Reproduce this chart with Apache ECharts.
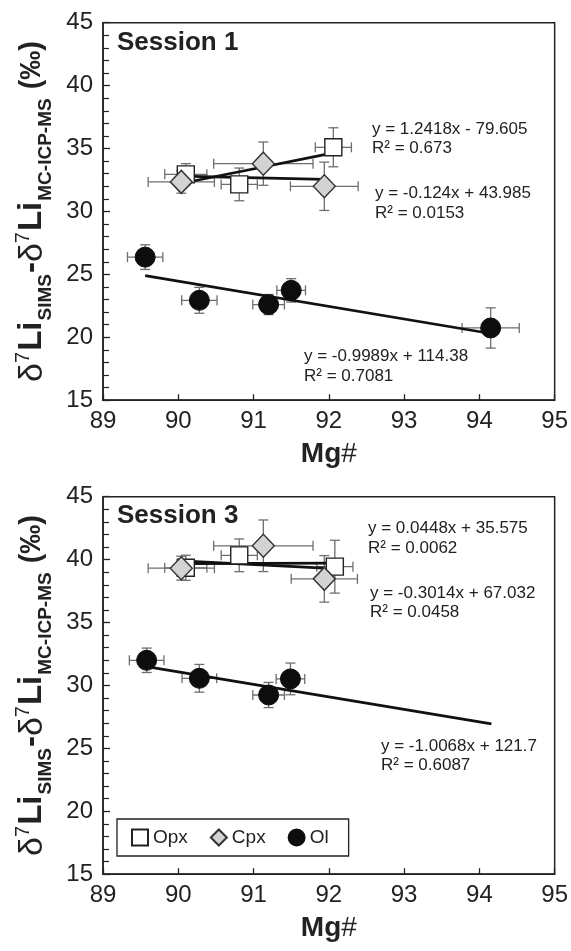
<!DOCTYPE html>
<html>
<head>
<meta charset="utf-8">
<script src="https://cdn.jsdelivr.net/npm/echarts@6/dist/echarts.min.js"></script>
<style>html,body{margin:0;padding:0;background:#fff}#c{width:571px;height:951px}</style>
</head>
<body>
<div id="c"></div>
<script>
// ---------- Data ----------
const xTicks = [89, 90, 91, 92, 93, 94, 95];
const yTicks = [15, 20, 25, 30, 35, 40, 45];

// Session 1
const s1OpxX = [90.10, 90.81, 92.06];
const s1OpxY = [32.95, 32.15, 35.10];
const s1OpxXErr = [0.28, 0.24, 0.24];
const s1OpxYErr = [0.85, 1.30, 1.55];
const s1CpxX = [90.04, 91.13, 91.94];
const s1CpxY = [32.35, 33.80, 32.00];
const s1CpxXErr = [0.44, 0.66, 0.45];
const s1CpxYErr = [0.90, 1.72, 1.92];
const s1OlX = [89.56, 90.28, 91.20, 91.50, 94.15];
const s1OlY = [26.37, 22.94, 22.60, 23.73, 20.74];
const s1OlXErr = [0.235, 0.235, 0.21, 0.19, 0.38];
const s1OlYErr = [0.98, 1.03, 0.80, 0.93, 1.60];
const s1OpxFit = [[90.10, 32.30], [92.06, 34.65]];
const s1CpxFit = [[90.04, 32.80], [91.94, 32.55]];
const s1OlFit = [[89.56, 24.90], [94.15, 20.30]];
const s1Eq = ["y = 1.2418x - 79.605", "R\u00b2 = 0.673", "y = -0.124x + 43.985", "R\u00b2 = 0.0153", "y = -0.9989x + 114.38", "R\u00b2 = 0.7081"];

// Session 3
const s3OpxX = [90.10, 90.81, 92.08];
const s3OpxY = [39.35, 40.34, 39.44];
const s3OpxXErr = [0.28, 0.24, 0.24];
const s3OpxYErr = [1.00, 1.30, 2.10];
const s3CpxX = [90.04, 91.13, 91.94];
const s3CpxY = [39.32, 41.10, 38.47];
const s3CpxXErr = [0.44, 0.66, 0.44];
const s3CpxYErr = [0.95, 2.05, 1.85];
const s3OlX = [89.58, 90.28, 91.20, 91.49];
const s3OlY = [32.00, 30.57, 29.24, 30.52];
const s3OlXErr = [0.23, 0.23, 0.21, 0.19];
const s3OlYErr = [0.97, 1.10, 1.00, 1.26];
const s3OpxFit = [[90.10, 39.68], [92.08, 39.72]];
const s3CpxFit = [[90.04, 39.90], [91.94, 39.32]];
const s3OlFit = [[89.58, 31.50], [94.16, 26.95]];
const s3Eq = ["y = 0.0448x + 35.575", "R\u00b2 = 0.0062", "y = -0.3014x + 67.032", "R\u00b2 = 0.0458", "y = -1.0068x + 121.7", "R\u00b2 = 0.6087"];

const sessionLabels = ["Session 1", "Session 3"];
const legendNames = ["Opx", "Cpx", "Ol"];

// ---------- Helpers ----------
const FONT = "'Liberation Sans', Arial, Helvetica, sans-serif";
const zip = (xs, ys) => xs.map((x, i) => [x, ys[i]]);
const zip4 = (xs, ys, ex, ey) => xs.map((x, i) => [x, ys[i], ex[i], ey[i]]);

function errRender(params, api) {
  const x = api.value(0), y = api.value(1), ex = api.value(2), ey = api.value(3);
  const l = api.coord([x - ex, y]), r = api.coord([x + ex, y]);
  const t = api.coord([x, y + ey]), b = api.coord([x, y - ey]);
  const cap = 5;
  const st = { stroke: '#6e6e6e', lineWidth: 1.3 };
  const ln = (x1, y1, x2, y2) => ({ type: 'line', shape: { x1, y1, x2, y2 }, style: st });
  return {
    type: 'group', children: [
      ln(l[0], l[1], r[0], r[1]),
      ln(l[0], l[1] - cap, l[0], l[1] + cap),
      ln(r[0], r[1] - cap, r[0], r[1] + cap),
      ln(t[0], t[1], b[0], b[1]),
      ln(t[0] - cap, t[1], t[0] + cap, t[1]),
      ln(b[0] - cap, b[1], b[0] + cap, b[1])
    ]
  };
}

const opxStyle = { color: '#ffffff', borderColor: '#222', borderWidth: 1.4, opacity: 1 };
const cpxStyle = { color: '#d3d3d3', borderColor: '#333', borderWidth: 1.4, opacity: 1 };
const olStyle = { color: '#0d0d0d', borderColor: '#0d0d0d', borderWidth: 1, opacity: 1 };

function sessionSeries(idx, d) {
  const base = { xAxisIndex: idx, yAxisIndex: idx, animation: false, silent: true };
  const err = (name, data) => Object.assign({ type: 'custom', name: name + ' err', renderItem: errRender, data, z: 2, encode: { x: 0, y: 1 } }, base);
  const fit = (name, data) => Object.assign({ type: 'line', name: name + ' fit', data, symbol: 'none', lineStyle: { color: '#111', width: 2.7 }, z: 3 }, base);
  return [
    err('Opx', d.opxE), err('Cpx', d.cpxE), err('Ol', d.olE),
    fit('Opx', d.opxF), fit('Cpx', d.cpxF), fit('Ol', d.olF),
    Object.assign({ type: 'scatter', name: 'Opx', data: d.opx, symbol: 'rect', symbolSize: 17, itemStyle: opxStyle, z: 4 }, base),
    Object.assign({ type: 'scatter', name: 'Cpx', data: d.cpx, symbol: 'diamond', symbolSize: [22, 23], itemStyle: cpxStyle, z: 4 }, base),
    Object.assign({ type: 'scatter', name: 'Ol', data: d.ol, symbol: 'circle', symbolSize: 20, itemStyle: olStyle, z: 5 }, base)
  ];
}

const gridTops = [22.7, 496.7];
const gridH = 377.5;

function xAxis(idx) {
  return {
    type: 'value', gridIndex: idx, min: xTicks[0], max: xTicks[xTicks.length - 1], interval: 1,
    axisLine: { lineStyle: { color: '#222', width: 1.5 } },
    axisTick: { inside: true, length: 6, lineStyle: { color: '#222', width: 1.3 } },
    splitLine: { show: false },
    axisLabel: { fontSize: 24, color: '#222', fontFamily: FONT, margin: 9 },
    name: '{b|Mg}{n|#}', nameLocation: 'middle', nameGap: 40,
    nameTextStyle: {
      rich: {
        b: { fontSize: 28, fontWeight: 'bold', fontFamily: FONT, color: '#222' },
        n: { fontSize: 28, fontFamily: FONT, color: '#222' }
      }
    }
  };
}

function yAxis(idx) {
  return {
    type: 'value', gridIndex: idx, min: yTicks[0], max: yTicks[yTicks.length - 1], interval: 5,
    axisLine: { lineStyle: { color: '#222', width: 1.5 } },
    axisTick: { inside: true, length: 7, lineStyle: { color: '#222', width: 1.3 } },
    minorTick: { show: true, splitNumber: 5, length: 6, lineStyle: { color: '#222', width: 1.2 } },
    splitLine: { show: false },
    axisLabel: { fontSize: 24, color: '#222', fontFamily: FONT, margin: 10, padding: [6, 0, 0, 0] },
    name: '{d|\u03b4}{s|7}{b|Li}{sub|SIMS}{b|-}{d|\u03b4}{s|7}{b|Li}{sub|MC-ICP-MS}{p| (\u2030)}',
    nameLocation: 'middle', nameRotate: 90, nameGap: 45,
    nameTextStyle: {
      rich: {
        d: { fontSize: 34, fontFamily: FONT, color: '#222', verticalAlign: 'middle', lineHeight: 46 },
        s: { fontSize: 20, fontFamily: FONT, color: '#222', verticalAlign: 'top', padding: [4, 1, 0, 0] },
        b: { fontSize: 33, fontWeight: 'bold', fontFamily: FONT, color: '#222', verticalAlign: 'middle', lineHeight: 46 },
        sub: { fontSize: 19, fontWeight: 'bold', fontFamily: FONT, color: '#222', verticalAlign: 'bottom', padding: [0, 1, 0, 1] },
        p: { fontSize: 29, fontWeight: 'bold', fontFamily: FONT, color: '#222', verticalAlign: 'middle', lineHeight: 46 }
      }
    }
  };
}

function eqText(txt, x, y) {
  return { type: 'text', x, y, silent: true, style: { text: txt, fill: '#222', font: '17px ' + FONT, textVerticalAlign: 'middle' } };
}

const s1Data = {
  opx: zip(s1OpxX, s1OpxY), cpx: zip(s1CpxX, s1CpxY), ol: zip(s1OlX, s1OlY),
  opxE: zip4(s1OpxX, s1OpxY, s1OpxXErr, s1OpxYErr), cpxE: zip4(s1CpxX, s1CpxY, s1CpxXErr, s1CpxYErr), olE: zip4(s1OlX, s1OlY, s1OlXErr, s1OlYErr),
  opxF: s1OpxFit, cpxF: s1CpxFit, olF: s1OlFit
};
const s3Data = {
  opx: zip(s3OpxX, s3OpxY), cpx: zip(s3CpxX, s3CpxY), ol: zip(s3OlX, s3OlY),
  opxE: zip4(s3OpxX, s3OpxY, s3OpxXErr, s3OpxYErr), cpxE: zip4(s3CpxX, s3CpxY, s3CpxXErr, s3CpxYErr), olE: zip4(s3OlX, s3OlY, s3OlXErr, s3OlYErr),
  opxF: s3OpxFit, cpxF: s3CpxFit, olF: s3OlFit
};

const chart = echarts.init(document.getElementById('c'), null, { renderer: 'canvas' });
chart.setOption({
  animation: false,
  backgroundColor: '#fff',
  grid: gridTops.map(t => ({ left: 103, top: t, width: 453, height: gridH, show: true, borderColor: '#222', borderWidth: 1.5, backgroundColor: 'transparent' })),
  xAxis: [xAxis(0), xAxis(1)],
  yAxis: [yAxis(0), yAxis(1)],
  legend: {
    left: 117, top: 819, orient: 'horizontal',
    data: [{ name: legendNames[0], icon: 'rect' }, { name: legendNames[1], icon: 'diamond' }, { name: legendNames[2], icon: 'circle' }],
    itemWidth: 16, itemHeight: 16, itemGap: 22,
    padding: [9, 20, 9, 14],
    borderColor: '#222', borderWidth: 1.3, backgroundColor: '#fff',
    textStyle: { fontSize: 19, color: '#222', fontFamily: FONT },
    selectedMode: false
  },
  graphic: [
    { type: 'text', x: 117, y: 42.5, silent: true, style: { text: sessionLabels[0], fill: '#222', font: 'bold 26px ' + FONT, textVerticalAlign: 'middle' } },
    { type: 'text', x: 117, y: 516, silent: true, style: { text: sessionLabels[1], fill: '#222', font: 'bold 26px ' + FONT, textVerticalAlign: 'middle' } },
    eqText(s1Eq[0], 372, 129), eqText(s1Eq[1], 372, 148),
    eqText(s1Eq[2], 375, 193), eqText(s1Eq[3], 375, 213),
    eqText(s1Eq[4], 304, 356), eqText(s1Eq[5], 304, 376),
    eqText(s3Eq[0], 368, 528), eqText(s3Eq[1], 368, 548),
    eqText(s3Eq[2], 370, 593), eqText(s3Eq[3], 370, 612),
    eqText(s3Eq[4], 381, 746), eqText(s3Eq[5], 381, 765)
  ],
  series: [].concat(sessionSeries(0, s1Data), sessionSeries(1, s3Data))
});
</script>
</body>
</html>
